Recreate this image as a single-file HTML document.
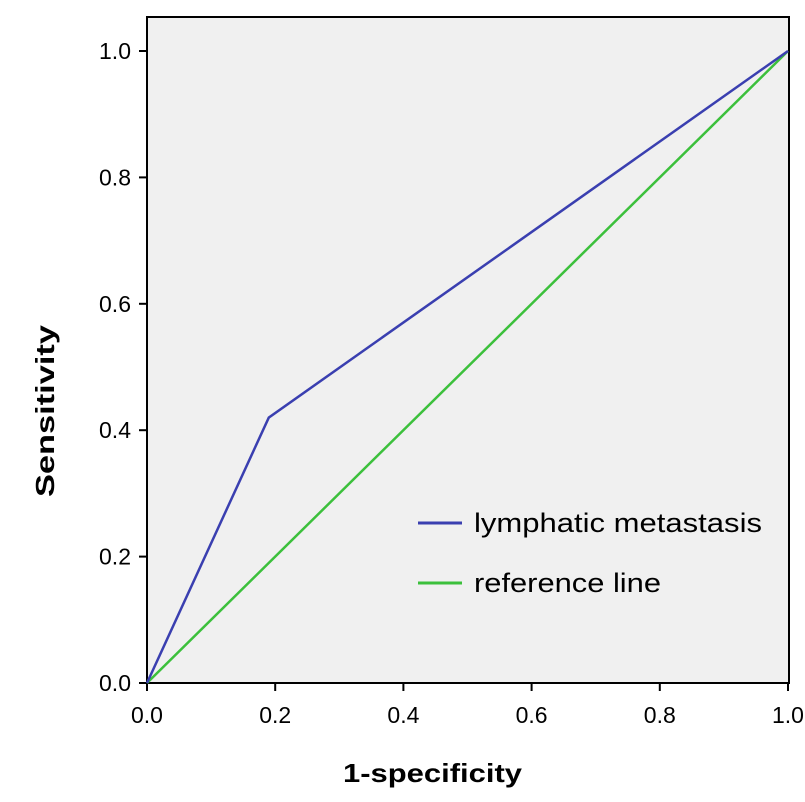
<!DOCTYPE html>
<html><head><meta charset="utf-8"><style>
body{margin:0;background:#fff;}
svg{display:block;font-family:"Liberation Sans",Arial,sans-serif;}
</style></head><body>
<svg id="chart" width="805" height="802">
<rect x="147" y="17" width="642" height="666" fill="#f0f0f0" stroke="#000" stroke-width="2"/>
<g id="ticks"></g>
<g id="series"></g>
<text x="343" y="782" font-size="26" font-weight="bold" textLength="179" lengthAdjust="spacingAndGlyphs">1-specificity</text>
<text transform="translate(54,497) rotate(-90)" font-size="26" font-weight="bold" textLength="172" lengthAdjust="spacingAndGlyphs">Sensitivity</text>
<g>
<line x1="418" y1="523" x2="462" y2="523" stroke="#3a3fb0" stroke-width="3"/>
<text x="474" y="532" font-size="27" textLength="288" lengthAdjust="spacingAndGlyphs">lymphatic metastasis</text>
<line x1="418" y1="583" x2="462" y2="583" stroke="#3cc03c" stroke-width="3"/>
<text x="474" y="592" font-size="27" textLength="187" lengthAdjust="spacingAndGlyphs">reference line</text>
</g>
</svg>
<script>
const xTicks=[0,0.2,0.4,0.6,0.8,1.0];
const yTicks=[0,0.2,0.4,0.6,0.8,1.0];
const rocX=[0,0.19,1];
const rocY=[0,0.42,1];
const refX=[0,1];
const refY=[0,1];
const sx=v=>147+v*641, sy=v=>683-v*632;
const NS="http://www.w3.org/2000/svg";
const tg=document.getElementById('ticks'), sg=document.getElementById('series');
function mk(t,a,p){const e=document.createElementNS(NS,t);for(const k in a)e.setAttribute(k,a[k]);p.appendChild(e);return e;}
xTicks.forEach(v=>{
 const l=mk('line',{x1:sx(v),x2:sx(v),y1:683,y2:691,stroke:'#000','stroke-width':2},tg);
 
 
 const t=mk('text',{x:sx(v),y:723,'font-size':23,'text-anchor':'middle'},tg);t.textContent=v.toFixed(1);
 
 
});
yTicks.forEach(v=>{
 const l=mk('line',{x1:139,x2:147,y1:sy(v),y2:sy(v),stroke:'#000','stroke-width':2},tg);
 
 
 const t=mk('text',{x:131,y:sy(v)+8,'font-size':23,'text-anchor':'end'},tg);t.textContent=v.toFixed(1);
 
 
});
const r=mk('polyline',{points:refX.map((x,i)=>sx(x)+','+sy(refY[i])).join(' '),fill:'none',stroke:'#3cc03c','stroke-width':2.5},sg);


const b=mk('polyline',{points:rocX.map((x,i)=>sx(x)+','+sy(rocY[i])).join(' '),fill:'none',stroke:'#3a3fb0','stroke-width':2.5},sg);


</script>
</body></html>
